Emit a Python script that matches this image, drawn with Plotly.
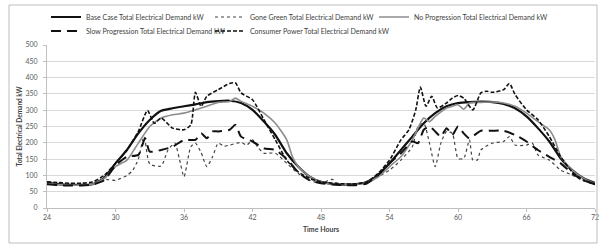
import plotly.graph_objects as go

base_x = [24,25,26,27,28,29,30,31,32,33,34,35,36,37,38,39,40,41,42,43,44,45,46,47,48,49,50,51,52,53,54,55,56,57,58,59,60,61,62,63,64,65,66,67,68,69,70,71,72]
base_y = [77,73,71,71,73,92,137,178,229,270,298,306,312,318,325,328,329,322,301,265,224,168,127,96,80,74,72,73,80,101,137,178,219,260,291,312,322,325,326,325,319,306,281,245,204,152,116,91,77]

green_x = [24,25,26,27,28,29,30,31,31.5,32,32.5,33,34,34.6,35.2,35.6,36,36.6,37,37.5,38,38.5,39,39.5,40,41,41.5,42,42.5,43,44,45,46,47,48,49,49.4,50,51,52,53,54,55,56,56.5,57,57.5,58,58.5,59,59.5,60,60.5,61,61.3,61.7,62,63,64,64.5,65,66,66.5,67,68,69,70,71,72]
green_y = [75,72,70,72,78,88,85,100,115,150,219,135,129,178,199,150,96,188,199,170,127,157,199,190,193,201,193,209,185,168,168,137,106,85,76,88,75,72,72,78,96,116,147,188,250,260,199,127,199,235,229,152,152,209,147,147,178,199,204,219,193,193,199,163,147,116,101,83,73]

nopro_x = [24,25,26,27,28,29,30,31,32,33,34,35,36,37,38,39,40,40.5,41,42,43,44,45,45.5,46,47,48,49,50,51,52,53,54,55,56,57,57.5,58,59,59.5,60,60.5,61,62,63,64,65,66,67,68,68.5,69,70,71,72]
nopro_y = [75,72,70,70,73,90,127,147,199,250,276,286,291,301,312,324,327,337,327,312,291,260,209,157,127,96,80,74,72,72,78,95,127,157,209,276,265,281,307,312,317,303,322,324,325,322,312,291,265,240,209,157,116,91,75]

slow_x = [24,25,26,27,28,29,30,31,32,32.6,33,34,35,36,37,37.5,38,38.5,39,40,40.5,41,42,43,44,45,46,47,48,49,50,51,52,53,54,55,56,56.5,57,57.5,58,58.5,59,59.5,60,60.5,61,62,63,64,65,66,67,68,69,70,71,72]
slow_y = [73,70,69,69,72,85,130,157,163,214,173,178,188,209,209,229,214,235,235,240,255,219,204,183,178,150,110,85,76,72,70,70,75,101,137,168,204,199,240,250,235,219,245,224,250,229,214,237,237,237,224,204,178,157,137,106,85,73]

cons_x = [24,25,26,27,28,29,30,31,32,32.8,33.4,34,35,36,36.6,37,37.5,38,39,40,40.5,41,42,43,44,45,46,47,48,49,50,51,52,53,54,55,55.7,56.3,56.7,57.2,57.7,58.2,59,59.5,60,60.5,61.3,62,62.5,63,64,64.5,65,66,67,68,69,70,71,72]
cons_y = [80,78,76,76,80,100,137,178,235,299,260,276,245,240,255,355,312,343,363,382,384,353,332,271,209,147,111,91,80,76,74,74,80,106,147,209,240,301,371,312,343,307,322,337,345,337,301,353,358,355,363,382,348,301,271,219,157,111,85,73]

x_ticks = [24,30,36,42,48,54,60,66,72]
y_ticks = [0,50,100,150,200,250,300,350,400,450,500]

FONT = "Lato, Liberation Sans, Arial, sans-serif"
L, T, PW, PH = 47, 45, 548, 163

def px_x(px):
    return (px - L) / PW

def px_y(py):
    return (T + PH - py) / PH

fig = go.Figure()
def add(name, xs, ys, color, width, dash, legend):
    fig.add_trace(go.Scatter(x=xs, y=ys, name=name, mode="lines",
                             line=dict(color=color, width=width, dash=dash, shape="spline", smoothing=0.6),
                             legend=legend))

add("Base Case Total Electrical Demand kW", base_x, base_y, "#111111", 2.2, "solid", "legend")
add("Gone Green Total Electrical Demand kW", green_x, green_y, "#444444", 1.2, "dot", "legend2")
add("No Progression Total Electrical Demand kW", nopro_x, nopro_y, "#8c8c8c", 1.6, "solid", "legend3")
add("Slow Progression Total Electrical Demand kW", slow_x, slow_y, "#111111", 2.0, "10px,6px", "legend4")
add("Consumer Power Total Electrical Demand kW", cons_x, cons_y, "#111111", 1.6, "4px,2px", "legend5")

def leg(text_px, row_py):
    return dict(orientation="h", x=px_x(text_px - 40), y=px_y(row_py), xanchor="left", yanchor="middle",
                font=dict(size=7, family=FONT, color="#404040"), itemwidth=30,
                bgcolor="rgba(0,0,0,0)", borderwidth=0)

fig.update_layout(
    width=602, height=246,
    margin=dict(l=L, r=602 - L - PW, t=T, b=246 - T - PH, autoexpand=False),
    paper_bgcolor="white", plot_bgcolor="white",
    font=dict(family=FONT, size=7, color="#404040"),
    showlegend=True,
    legend=leg(86, 17),
    legend2=leg(250, 17),
    legend3=leg(414, 17),
    legend4=leg(86, 31),
    legend5=leg(250, 31),
    xaxis=dict(range=[24, 72], tickvals=x_ticks, ticktext=[str(v) for v in x_ticks],
               showgrid=False, zeroline=False, showline=True, linecolor="#bfbfbf", linewidth=1,
               ticks="outside", ticklen=3, tickcolor="#bfbfbf",
               tickfont=dict(size=7, color="#595959"), automargin=False,
               title=dict(text="<b>Time Hours</b>", font=dict(size=7, color="#404040"), standoff=6)),
    yaxis=dict(range=[0, 500], tickvals=y_ticks, showgrid=True, gridcolor="#d9d9d9", gridwidth=1,
               zeroline=False, showline=True, linecolor="#bfbfbf", linewidth=1,
               ticks="outside", ticklen=3, tickcolor="#bfbfbf", ticklabelstandoff=4,
               tickfont=dict(size=7, color="#595959"), automargin=False,
               title=dict(text="<b>Total Electrical Demand kW</b>", font=dict(size=6.5, color="#404040"), standoff=2)),
    shapes=[dict(type="rect", xref="paper", yref="paper", x0=px_x(9), x1=px_x(597), y0=px_y(243), y1=px_y(5),
                 line=dict(color="#bdbdbd", width=1), fillcolor="rgba(0,0,0,0)", layer="above")],
)

fig.write_html("out.html", config={"displayModeBar": False, "staticPlot": True},
               post_script="document.body.style.margin='0px';document.body.style.overflow='hidden';")
